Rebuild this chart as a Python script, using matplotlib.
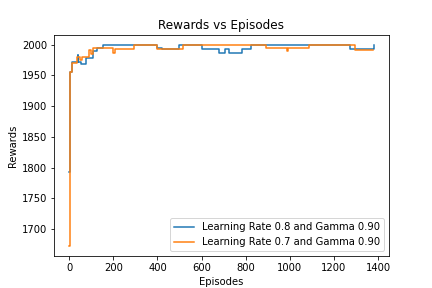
import matplotlib
matplotlib.use("Agg")
import matplotlib.pyplot as plt

# Change points (episode, reward)
blue_ep = [0, 4, 12, 38, 42, 53, 76, 106, 125, 155, 400, 420, 497, 602, 681, 707, 726, 782, 823, 1273, 1376, 1380]
blue_rw = [1793, 1955, 1972, 1983, 1972, 1968, 1979, 1989, 1994, 2000, 1995, 1993, 2000, 1993, 1986, 1993, 1986, 1993, 2000, 1993, 1993, 2000]

orange_ep = [0, 5, 12, 35, 48, 60, 90, 100, 106, 200, 208, 295, 399, 518, 893, 986, 992, 1087, 1296, 1376]
orange_rw = [1672, 1955, 1970, 1980, 1975, 1980, 1992, 1985, 1994, 1986, 1993, 2000, 1993, 2000, 1994, 1990, 1994, 2000, 1992, 1992]

labels = ["Learning Rate 0.8 and Gamma 0.90", "Learning Rate 0.7 and Gamma 0.90"]

fig, ax = plt.subplots(figsize=(6, 4), dpi=72)
ax.plot(blue_ep, blue_rw, drawstyle="steps-post", label=labels[0])
ax.plot(orange_ep, orange_rw, drawstyle="steps-post", label=labels[1])
ax.set_title("Rewards vs Episodes")
ax.set_xlabel("Episodes")
ax.set_ylabel("Rewards")
ax.legend(loc="lower right")
fig.savefig("out.png", dpi=72)
